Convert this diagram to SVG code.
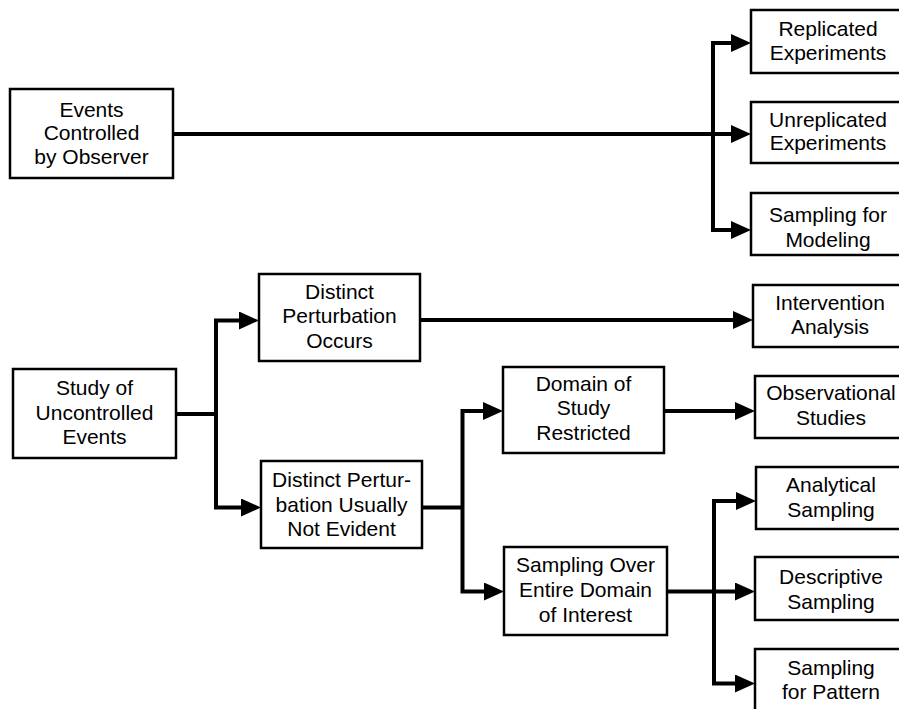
<svg xmlns="http://www.w3.org/2000/svg" width="899" height="709" viewBox="0 0 899 709">
<style>
.box{fill:#fff;stroke:#000;stroke-width:2.5}
.lbl{font-family:"Liberation Sans",Arial,Helvetica,sans-serif;font-size:21px;fill:#000;text-anchor:middle}
.con{fill:none;stroke:#000;stroke-width:4;stroke-linejoin:miter;stroke-linecap:butt}
.arr{marker-end:url(#ah)}
.arr2{marker-start:url(#ah);marker-end:url(#ah)}
</style>
<defs>
<marker id="ah" markerUnits="userSpaceOnUse" markerWidth="20" markerHeight="18" viewBox="0 0 20 18" refX="10" refY="9" orient="auto-start-reverse">
<path d="M0,0 L20,9 L0,18 Z" fill="#000"/>
</marker>
</defs>
<rect width="899" height="709" fill="#fff"/>
<g id="connectors">
<path class="con arr" d="M173,134 H741"/>
<path class="con arr2" d="M741,43 H713 V230 H741"/>
<path class="con" d="M176,414 H216"/>
<path class="con arr2" d="M249,320.5 H216 V507.5 H251"/>
<path class="con arr" d="M420,320 H743"/>
<path class="con" d="M422,507.5 H462.5"/>
<path class="con arr2" d="M493,411 H462.5 V591.5 H494"/>
<path class="con arr" d="M664,411 H745"/>
<path class="con arr" d="M667,591.5 H745"/>
<path class="con arr2" d="M746,501 H714 V683.5 H745"/>
</g>
<g id="events-controlled">
<rect class="box" x="10" y="89" width="163" height="89"/>
<text class="lbl" x="91.5" y="116.5">Events</text>
<text class="lbl" x="91.5" y="140">Controlled</text>
<text class="lbl" x="91.5" y="163.5">by Observer</text>
</g>
<g id="replicated">
<rect class="box" x="751" y="10" width="154" height="63"/>
<text class="lbl" x="828" y="36">Replicated</text>
<text class="lbl" x="828" y="60">Experiments</text>
</g>
<g id="unreplicated">
<rect class="box" x="751" y="102" width="154" height="61"/>
<text class="lbl" x="828" y="126.5">Unreplicated</text>
<text class="lbl" x="828" y="150">Experiments</text>
</g>
<g id="sampling-modeling">
<rect class="box" x="751" y="193" width="154" height="62"/>
<text class="lbl" x="828" y="221.5">Sampling for</text>
<text class="lbl" x="828" y="246.5">Modeling</text>
</g>
<g id="study-uncontrolled">
<rect class="box" x="13" y="369" width="163" height="89"/>
<text class="lbl" x="94.5" y="395">Study of</text>
<text class="lbl" x="94.5" y="420">Uncontrolled</text>
<text class="lbl" x="94.5" y="444">Events</text>
</g>
<g id="perturbation-occurs">
<rect class="box" x="259" y="274" width="161" height="87"/>
<text class="lbl" x="339.5" y="299">Distinct</text>
<text class="lbl" x="339.5" y="323">Perturbation</text>
<text class="lbl" x="339.5" y="348">Occurs</text>
</g>
<g id="perturbation-not-evident">
<rect class="box" x="261" y="461" width="161" height="87"/>
<text class="lbl" x="341.5" y="487">Distinct Pertur-</text>
<text class="lbl" x="341.5" y="511.5">bation Usually</text>
<text class="lbl" x="341.5" y="535.5">Not Evident</text>
</g>
<g id="domain-restricted">
<rect class="box" x="503" y="367" width="161" height="86"/>
<text class="lbl" x="583.5" y="391">Domain of</text>
<text class="lbl" x="583.5" y="415">Study</text>
<text class="lbl" x="583.5" y="440">Restricted</text>
</g>
<g id="sampling-entire">
<rect class="box" x="504" y="547" width="163" height="88"/>
<text class="lbl" x="585.5" y="572">Sampling Over</text>
<text class="lbl" x="585.5" y="597">Entire Domain</text>
<text class="lbl" x="585.5" y="622">of Interest</text>
</g>
<g id="intervention">
<rect class="box" x="753" y="285" width="152" height="62"/>
<text class="lbl" x="830" y="310">Intervention</text>
<text class="lbl" x="830" y="333.5">Analysis</text>
</g>
<g id="observational">
<rect class="box" x="755" y="376" width="150" height="62"/>
<text class="lbl" x="831" y="399.5">Observational</text>
<text class="lbl" x="831" y="425">Studies</text>
</g>
<g id="analytical">
<rect class="box" x="756" y="467" width="149" height="62"/>
<text class="lbl" x="831" y="492">Analytical</text>
<text class="lbl" x="831" y="516.5">Sampling</text>
</g>
<g id="descriptive">
<rect class="box" x="755" y="557" width="150" height="63"/>
<text class="lbl" x="831" y="583.5">Descriptive</text>
<text class="lbl" x="831" y="608.5">Sampling</text>
</g>
<g id="sampling-pattern">
<rect class="box" x="755" y="649" width="150" height="80"/>
<text class="lbl" x="831" y="675">Sampling</text>
<text class="lbl" x="831" y="698.5">for Pattern</text>
</g>
</svg>
